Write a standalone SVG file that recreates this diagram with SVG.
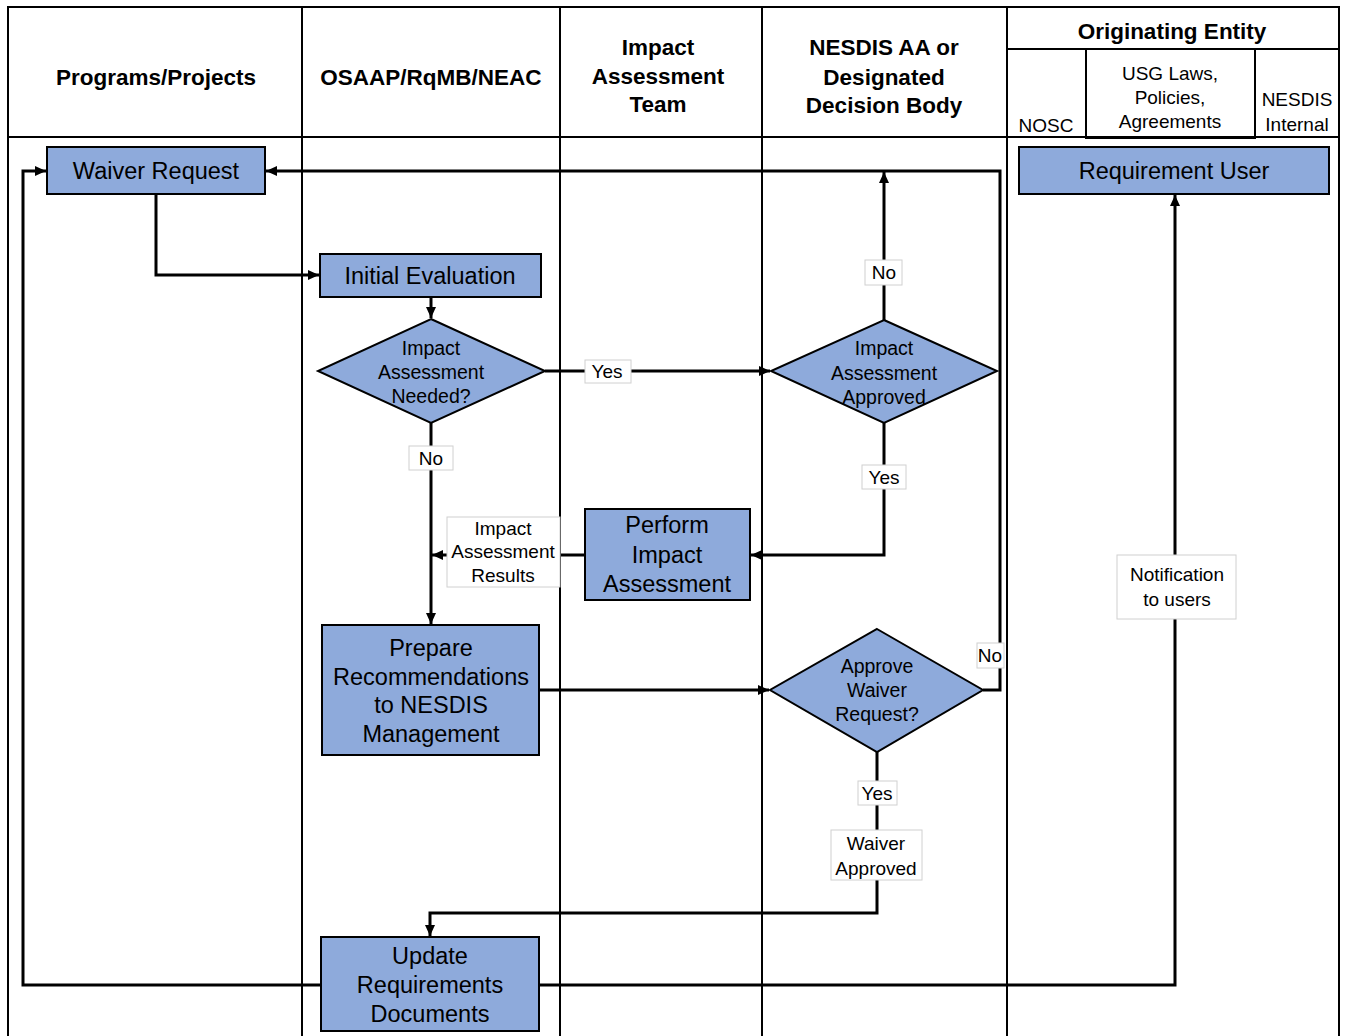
<svg xmlns="http://www.w3.org/2000/svg" width="1345" height="1036" viewBox="0 0 1345 1036">
<style>
.grid{stroke:#000;stroke-width:2;fill:none}
.node{fill:#8eaadb;stroke:#000;stroke-width:2}
.conn{stroke:#000;stroke-width:3;fill:none}
.lbl{fill:#fff;stroke:#d0d0d0;stroke-width:1}
.hd{font-family:"Liberation Sans",Arial,sans-serif;font-weight:bold;font-size:22.5px;text-anchor:middle;fill:#000}
.sh{font-family:"Liberation Sans",Arial,sans-serif;font-size:19px;text-anchor:middle;fill:#000}
.nt{font-family:"Liberation Sans",Arial,sans-serif;font-size:23.5px;text-anchor:middle;fill:#000}
.dt{font-family:"Liberation Sans",Arial,sans-serif;font-size:19.5px;text-anchor:middle;fill:#000}
.lt{font-family:"Liberation Sans",Arial,sans-serif;font-size:19px;text-anchor:middle;fill:#000}
</style>
<defs>
<marker id="ah" markerUnits="userSpaceOnUse" markerWidth="12" markerHeight="12" viewBox="0 0 12 12" refX="11" refY="6" orient="auto">
<path d="M0,1 L11,6 L0,11 Z" fill="#000"/>
</marker>
</defs>
<rect width="1345" height="1036" fill="#fff"/>
<g id="table">
<path class="grid" d="M8,1040 V7 H1339 V1040 M302,7 V1040 M560,7 V1040 M762,7 V1040 M1007,7 V1040 M8,137 H1339 M1007,49 H1339 M1086,49 V138 H1255 V49"/>
<text class="hd" x="156" y="85">Programs/Projects</text>
<text class="hd" x="431" y="85">OSAAP/RqMB/NEAC</text>
<text class="hd" x="658" y="55">Impact</text>
<text class="hd" x="658" y="84">Assessment</text>
<text class="hd" x="658" y="112">Team</text>
<text class="hd" x="884" y="55">NESDIS AA or</text>
<text class="hd" x="884" y="85">Designated</text>
<text class="hd" x="884" y="113">Decision Body</text>
<text class="hd" x="1172" y="39" font-size="23.5">Originating Entity</text>
<text class="sh" x="1046" y="132">NOSC</text>
<text class="sh" x="1170" y="80" font-size="18">USG Laws,</text>
<text class="sh" x="1170" y="104" font-size="18">Policies,</text>
<text class="sh" x="1170" y="128" font-size="18">Agreements</text>
<text class="sh" x="1297" y="106">NESDIS</text>
<text class="sh" x="1297" y="131" font-size="18">Internal</text>
</g>
<g id="connectors">
<path class="conn" d="M156,194 V275 H319" marker-end="url(#ah)"/>
<path class="conn" d="M431,297 V318" marker-end="url(#ah)"/>
<path class="conn" d="M545,371 H770" marker-end="url(#ah)"/>
<path class="conn" d="M431,423 V624" marker-end="url(#ah)"/>
<path class="conn" d="M585,555 H432" marker-end="url(#ah)"/>
<path class="conn" d="M884,423 V555 H751" marker-end="url(#ah)"/>
<path class="conn" d="M884,320 V172" marker-end="url(#ah)"/>
<path class="conn" d="M983,690 H1000 V171 H266" marker-end="url(#ah)"/>
<path class="conn" d="M539,690 H769" marker-end="url(#ah)"/>
<path class="conn" d="M877,752 V913 H430 V936" marker-end="url(#ah)"/>
<path class="conn" d="M321,985 H23 V171 H46" marker-end="url(#ah)"/>
<path class="conn" d="M539,985 H1175 V195" marker-end="url(#ah)"/>
<rect class="lbl" x="585" y="360" width="46" height="23"/>
<text class="lt" x="607" y="378">Yes</text>
<rect class="lbl" x="409" y="446" width="44" height="24"/>
<text class="lt" x="431" y="465">No</text>
<rect class="lbl" x="862" y="465" width="44" height="24"/>
<text class="lt" x="884" y="484">Yes</text>
<rect class="lbl" x="865" y="260" width="37" height="25"/>
<text class="lt" x="884" y="279">No</text>
<rect class="lbl" x="977" y="643" width="27" height="25"/>
<text class="lt" x="990" y="662">No</text>
<rect class="lbl" x="858" y="781" width="39" height="24"/>
<text class="lt" x="877" y="800">Yes</text>
<rect class="lbl" x="831" y="830" width="91" height="50"/>
<text class="lt" x="876" y="850">Waiver</text>
<text class="lt" x="876" y="875">Approved</text>
<rect class="lbl" x="447" y="517" width="113" height="70"/>
<text class="lt" x="503" y="535" font-size="18">Impact</text>
<text class="lt" x="503" y="558" font-size="18">Assessment</text>
<text class="lt" x="503" y="582" font-size="18">Results</text>
<rect class="lbl" x="1117" y="555" width="119" height="64"/>
<text class="lt" x="1177" y="581">Notification</text>
<text class="lt" x="1177" y="606">to users</text>
</g>
<g id="waiver-request">
<rect class="node" x="47" y="147" width="218" height="47"/>
<text class="nt" x="156" y="179" font-size="24">Waiver Request</text>
</g>
<g id="requirement-user">
<rect class="node" x="1019" y="147" width="310" height="47"/>
<text class="nt" x="1174" y="179" font-size="24">Requirement User</text>
</g>
<g id="initial-evaluation">
<rect class="node" x="320" y="254" width="221" height="43"/>
<text class="nt" x="430" y="284" font-size="24">Initial Evaluation</text>
</g>
<g id="ia-needed">
<polygon class="node" points="431,319 545,371 431,423 318,371"/>
<text class="dt" x="431" y="355">Impact</text>
<text class="dt" x="431" y="379">Assessment</text>
<text class="dt" x="431" y="403">Needed?</text>
</g>
<g id="ia-approved">
<polygon class="node" points="884,320 997,371 884,423 771,371"/>
<text class="dt" x="884" y="355">Impact</text>
<text class="dt" x="884" y="380">Assessment</text>
<text class="dt" x="884" y="404">Approved</text>
</g>
<g id="perform-ia">
<rect class="node" x="585" y="509" width="165" height="91"/>
<text class="nt" x="667" y="533" font-size="24.5">Perform</text>
<text class="nt" x="667" y="563" font-size="24.5">Impact</text>
<text class="nt" x="667" y="592" font-size="24.5">Assessment</text>
</g>
<g id="prepare-recommendations">
<rect class="node" x="322" y="625" width="217" height="130"/>
<text class="nt" x="431" y="656">Prepare</text>
<text class="nt" x="431" y="685">Recommendations</text>
<text class="nt" x="431" y="713">to NESDIS</text>
<text class="nt" x="431" y="742">Management</text>
</g>
<g id="approve-waiver">
<polygon class="node" points="877,629 983,690 877,752 770,690"/>
<text class="dt" x="877" y="673">Approve</text>
<text class="dt" x="877" y="697">Waiver</text>
<text class="dt" x="877" y="721">Request?</text>
</g>
<g id="update-requirements">
<rect class="node" x="321" y="937" width="218" height="94"/>
<text class="nt" x="430" y="964">Update</text>
<text class="nt" x="430" y="993">Requirements</text>
<text class="nt" x="430" y="1022">Documents</text>
</g>
</svg>
